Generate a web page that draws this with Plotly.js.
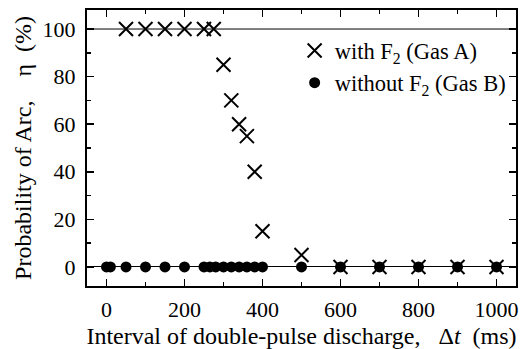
<!DOCTYPE html>
<html>
<head>
<meta charset="utf-8">
<script src="https://cdn.plot.ly/plotly-3.0.1.min.js"></script>
<style>html,body{margin:0;padding:0;background:#fff;}#chart{width:523px;height:349px;}</style>
</head>
<body>
<div id="chart"></div>
<script>
// Gas A: with F2
const gasA_x = [50, 100, 150, 200, 250, 275, 300, 320, 340, 360, 380, 400, 500, 600, 700, 800, 900, 1000];
const gasA_y = [100, 100, 100, 100, 100, 100, 85, 70, 60, 55, 40, 15, 5, 0, 0, 0, 0, 0];
// Gas B: without F2
const gasB_x = [0, 10, 50, 100, 150, 200, 250, 265, 280, 300, 320, 340, 360, 380, 400, 500, 600, 700, 800, 900, 1000];
const gasB_y = [0, 0, 0, 0, 0, 0, 0, 0, 0, 0, 0, 0, 0, 0, 0, 0, 0, 0, 0, 0, 0];
const nameA = 'with F<sub>2</sub> (Gas A)';
const nameB = 'without F<sub>2</sub> (Gas B)';
const xTitle = 'Interval of double-pulse discharge,\u00a0\u00a0\u00a0Δ<i>t</i>\u00a0\u00a0(ms)';
const yTitle = 'Probability of Arc,\u00a0\u00a0\u00a0\u00a0η\u00a0\u00a0(%)';

const fam = '"Liberation Serif", "Times New Roman", serif';
const tickFont = {family: fam, color: '#000', size: 22};
const titleFont = {family: fam, color: '#000', size: 24};
const legFont = {family: fam, color: '#000', size: 22.5};

const traces = [
  {x: gasA_x, y: gasA_y, name: nameA, mode: 'markers', type: 'scatter',
   marker: {symbol: 'x-thin-open', size: 14, color: '#000', line: {width: 2, color: '#000'}}},
  {x: gasB_x, y: gasB_y, name: nameB, mode: 'markers', type: 'scatter',
   marker: {symbol: 'circle', size: 11, color: '#000', line: {width: 0}}}
];

const axisCommon = {
  showgrid: false, showline: true, linecolor: '#000', linewidth: 2, mirror: 'ticks',
  ticks: 'inside', ticklen: 7, tickwidth: 1.5, tickcolor: '#000',
  tickfont: tickFont, zeroline: false, automargin: false
};

const layout = {
  width: 523, height: 349,
  margin: {l: 87, r: 7, t: 10, b: 63},
  paper_bgcolor: '#fff', plot_bgcolor: '#fff',
  font: tickFont,
  showlegend: true,
  legend: {x: 0.484, y: 0.93, xanchor: 'left', yanchor: 'top', bgcolor: 'rgba(0,0,0,0)',
           font: legFont, itemwidth: 30, tracegroupgap: 0},
  xaxis: Object.assign({}, axisCommon, {
    range: [-50, 1050], tickvals: [0, 200, 400, 600, 800, 1000], ticklabelstandoff: 3,
    minor: {tickvals: [100, 300, 500, 700, 900], ticklen: 4, tickwidth: 1.5, tickcolor: '#000', ticks: 'inside'},
    title: {text: xTitle, font: titleFont, standoff: 6}
  }),
  yaxis: Object.assign({}, axisCommon, {
    range: [-8, 108], tickvals: [0, 20, 40, 60, 80, 100], ticklabelstandoff: 5,
    minor: {tickvals: [10, 30, 50, 70, 90], ticklen: 4, tickwidth: 1.5, tickcolor: '#000', ticks: 'inside'},
    zeroline: true, zerolinecolor: '#000', zerolinewidth: 1,
    title: {text: yTitle, font: titleFont, standoff: 4}
  }),
  shapes: [
    {type: 'line', xref: 'paper', x0: 0, x1: 1, yref: 'y', y0: 100, y1: 100,
     line: {color: '#000', width: 1}, layer: 'below'}
  ]
};

Plotly.newPlot('chart', traces, layout, {displayModeBar: false, staticPlot: true});
</script>
</body>
</html>
